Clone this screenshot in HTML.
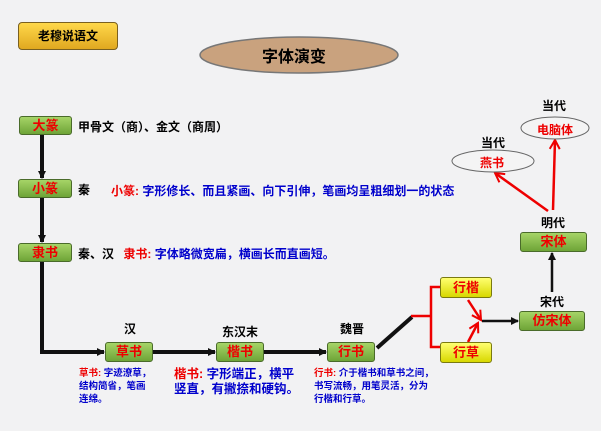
<!DOCTYPE html>
<html><head><meta charset="utf-8"><style>
body{margin:0;background:#f2f2f3;}
#c{position:relative;width:601px;height:431px;overflow:hidden;font-family:"Liberation Sans","Noto Sans CJK SC",sans-serif;}
.t{position:absolute;white-space:nowrap;font-weight:bold;}
.g{position:absolute;border:1px solid #4a6b2a;border-radius:3px;background:linear-gradient(#a6d467,#6ea437);color:#e00;font-weight:bold;font-size:13px;text-align:center;box-sizing:border-box;}
.y{position:absolute;border:1px solid #7a7a10;border-radius:3px;background:linear-gradient(#ffff70,#d8d800);color:#e00;font-weight:bold;font-size:13px;text-align:center;box-sizing:border-box;}
</style></head><body><div id="c">
<svg width="601" height="431" style="position:absolute;left:0;top:0">
<defs>
<marker id="ab" markerUnits="userSpaceOnUse" markerWidth="8" markerHeight="8" refX="7" refY="4" orient="auto"><path d="M0,0L8,4L0,8z" fill="#111"/></marker>
<marker id="ar" markerUnits="userSpaceOnUse" markerWidth="12" markerHeight="12" refX="10" refY="6" orient="auto"><path d="M1,1L10,6L1,11" fill="none" stroke="#e00" stroke-width="2"/></marker>
</defs>
<ellipse cx="299" cy="55" rx="99" ry="18" fill="#c9a27e" stroke="#777" stroke-width="1.5"/>
<g stroke="#111" stroke-width="4" fill="none">
<line x1="42" y1="135" x2="42" y2="178" marker-end="url(#ab)"/>
<line x1="42" y1="198" x2="42" y2="242" marker-end="url(#ab)"/>
<polyline points="42,262 42,352 104,352" marker-end="url(#ab)"/>
<line x1="153" y1="352" x2="215" y2="352" marker-end="url(#ab)"/>
<line x1="264" y1="352" x2="326" y2="352" marker-end="url(#ab)"/>
<line x1="377" y1="348" x2="412" y2="317"/>
</g>
<g stroke="#111" stroke-width="2.5" fill="none">
<line x1="482" y1="321" x2="518" y2="321" marker-end="url(#ab)"/>
<line x1="552" y1="292" x2="552" y2="253" marker-end="url(#ab)"/>
</g>
<g stroke="#e00" stroke-width="2.5" fill="none">
<polyline points="411,316 431,316"/>
<polyline points="440,287 431,287 431,347 440,347"/>
<line x1="468" y1="300" x2="481" y2="320" marker-end="url(#ar)"/>
<line x1="468" y1="342" x2="478" y2="323" marker-end="url(#ar)"/>
<line x1="553" y1="210" x2="555" y2="140" marker-end="url(#ar)"/>
<line x1="548" y1="211" x2="495" y2="173" marker-end="url(#ar)"/>
</g>
<ellipse cx="493" cy="161" rx="41" ry="11" fill="#f4f4f4" stroke="#666"/>
<ellipse cx="555" cy="128" rx="34" ry="11" fill="#f4f4f4" stroke="#666"/>
</svg>
<div style="position:absolute;left:18px;top:22px;width:100px;height:28px;box-sizing:border-box;border:1px solid #7a6020;border-radius:4px;background:linear-gradient(#ffd84a,#e0a820);font-weight:bold;font-size:12px;text-align:center;line-height:26px">老穆说语文</div>
<div class="t" style="left:262px;top:43px;font-size:16px">字体演变</div>
<div class="g" style="left:19px;top:116px;width:53px;height:19px;line-height:17px">大篆</div>
<div class="t" style="left:78px;top:118px;font-size:12px">甲骨文（商）、金文（商周）</div>
<div class="g" style="left:18px;top:179px;width:54px;height:19px;line-height:17px">小篆</div>
<div class="t" style="left:78px;top:181px;font-size:12px">秦</div>
<div class="t" style="left:111px;top:182px;font-size:12px;color:#00c"><span style="color:#e00">小篆:</span> 字形修长、而且紧画、向下引伸，笔画均呈粗细划一的状态</div>
<div class="g" style="left:18px;top:243px;width:54px;height:19px;line-height:17px">隶书</div>
<div class="t" style="left:78px;top:245px;font-size:12px">秦、汉 <span style="color:#e00;margin-left:6px">隶书:</span> <span style="color:#00c">字体略微宽扁，横画长而直画短。</span></div>
<div class="t" style="left:124px;top:320px;font-size:12px">汉</div>
<div class="t" style="left:222px;top:323px;font-size:12px">东汉末</div>
<div class="t" style="left:340px;top:320px;font-size:12px">魏晋</div>
<div class="g" style="left:105px;top:342px;width:48px;height:20px;line-height:18px">草书</div>
<div class="g" style="left:216px;top:342px;width:48px;height:20px;line-height:18px">楷书</div>
<div class="g" style="left:327px;top:342px;width:48px;height:20px;line-height:18px">行书</div>
<div class="t" style="left:79px;top:367px;font-size:9.5px;line-height:13px;color:#00c"><span style="color:#e00">草书:</span> 字迹潦草，<br>结构简省，笔画<br>连绵。</div>
<div class="t" style="left:174px;top:367px;font-size:12.5px;line-height:15px;color:#00c"><span style="color:#e00">楷书:</span> 字形端正，横平<br>竖直，有撇捺和硬钩。</div>
<div class="t" style="left:314px;top:367px;font-size:9.5px;line-height:13px;color:#00c"><span style="color:#e00">行书:</span> 介于楷书和草书之间，<br>书写流畅，用笔灵活，分为<br>行楷和行草。</div>
<div class="y" style="left:440px;top:277px;width:52px;height:21px;line-height:19px">行楷</div>
<div class="y" style="left:440px;top:342px;width:52px;height:21px;line-height:19px">行草</div>
<div class="g" style="left:519px;top:311px;width:66px;height:20px;line-height:18px">仿宋体</div>
<div class="t" style="left:540px;top:293px;font-size:12px">宋代</div>
<div class="g" style="left:520px;top:232px;width:67px;height:20px;line-height:18px">宋体</div>
<div class="t" style="left:541px;top:214px;font-size:12px">明代</div>
<div class="t" style="left:481px;top:134px;font-size:12px">当代</div>
<div class="t" style="left:542px;top:97px;font-size:12px">当代</div>
<div class="t" style="left:480px;top:154px;font-size:12px;color:#e00">燕书</div>
<div class="t" style="left:537px;top:121px;font-size:12px;color:#e00">电脑体</div>
</div></body></html>
